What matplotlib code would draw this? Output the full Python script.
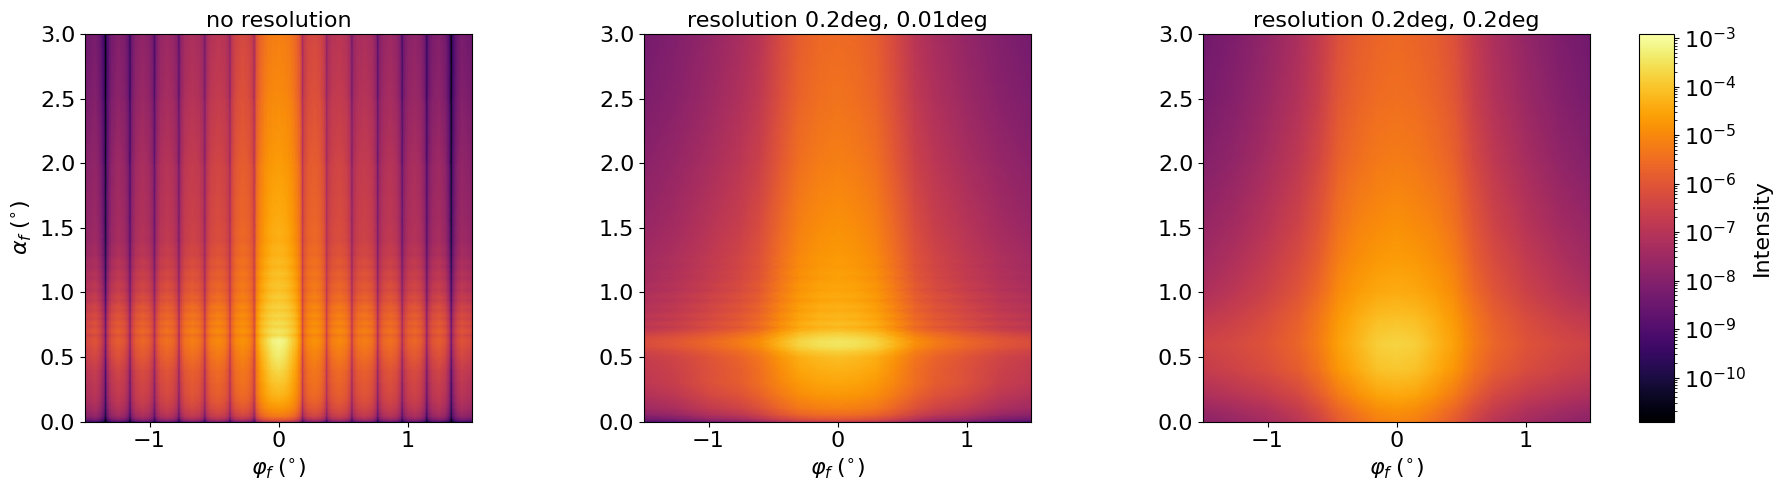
import numpy as np
import matplotlib
matplotlib.use("Agg")
import matplotlib.pyplot as plt
from matplotlib.colors import LogNorm

VMIN, VMAX = 1.24e-11, 1.21e-3
TITLES = ["no resolution", "resolution 0.2deg, 0.01deg", "resolution 0.2deg, 0.2deg"]

# ---- panel 1 (log10 intensity) ----
alpha1 = [0, .008, .02, .04, .07, .1, .15, .2, .3, .4, .5, .55, .6, .63, .65, .667, .685, .705, .736, .762, .797,
          .82, .86, .886, .938, .963, 1.015, 1.054, 1.108, 1.146, 1.196, 1.235, 1.287, 1.34, 1.40, 1.46, 1.55,
          1.75, 2.0, 2.5, 3.0]
centre1 = [-6.9, -6.3, -5.8, -5.3, -5.0, -4.8, -4.5, -4.25, -3.95, -3.65, -3.35, -3.25, -3.15, -3.1, -3.3, -3.6,
           -3.5, -3.45, -3.75, -3.55, -3.85, -3.65, -3.92, -3.75, -4.02, -3.85, -4.1, -3.95, -4.15, -4.02, -4.25,
           -4.12, -4.3, -4.25, -4.38, -4.33, -4.4, -4.5, -4.65, -4.95, -5.15]
bump1 = [0, 0, 0, 0, 0, 0, .05, .15, .3, .5, .6, .6, .55, .55, .4, .3, .2, .15, .1, .1, .05, .05, .05, .05, .1, .1,
         .1, .1, .1, .1, .1, .1, .1, .1, .1, .1, .1, .05, 0, 0, 0]
weight1 = [1.2, 1.15, 1.1, 1.0, .9, .85, .8, .75, .75, .85, 1, 1, 1, 1, 1, 1, 1, 1, .95, .95, .9, .85, .8, .75, .65,
           .6, .5, .45, .35, .3, .25, .2, .12, .08, .05, 0, 0, 0, 0, 0, 0]
core_phi = [0, .05, .085, .11, .135, .155, .172]
core_top = [0, -.05, -.15, -.3, -.5, -.75, -1.05]
core_add = [0, 0, 0, 0, 0, -.1, -.15]
core_bump = [1, .8, .4, .2, .1, 0, 0]
peak_phi = [.28, .47, .67, .865, 1.055, 1.245, 1.42]
peak_top = [-1.15, -1.75, -2.05, -2.35, -2.6, -2.85, -3.05]
peak_add = [0, .45, .55, .6, .65, .7, .65]
dip_phi = [.187, .374, .57, .77, .96, 1.15, 1.34]
dip_top = [-2.3, -2.7, -3.2, -3.7, -4.1, -4.4, -5.7]
dip_add = [-.35, -.15, .15, .25, .45, .35, .85]
edge_phi, edge_top, edge_add = [1.5], [-3.3], [.6]

# ---- panel 2 ----
alpha2 = [0, .008, .02, .05, .1, .2, .3, .4, .5, .55, .58, .62, .66, .7, .73, .76, .79, .82, .86, .89, .94, .97,
          1.02, 1.05, 1.11, 1.15, 1.2, 1.24, 1.3, 1.5, 2.0, 2.5, 3.0]
centre2 = [-6.7, -6.3, -6.0, -5.55, -5.15, -4.75, -4.5, -4.3, -4.1, -3.75, -3.5, -3.45, -3.65, -4.0, -4.25, -4.08,
           -4.3, -4.2, -4.4, -4.3, -4.5, -4.4, -4.55, -4.48, -4.62, -4.58, -4.68, -4.65, -4.72, -4.85, -5.15,
           -5.4, -5.55]
weight2 = [1, 1, 1, 1, 1, 1, 1, .6, .4, .1, -.05, -.05, 0, .1, .1, .1, .1, .1, .1, .1, .1, .1, 0, 0, 0, 0, 0, 0, 0, 0,
           0, 0, 0]
phi2 = [0, .15, .3, .45, .6, .75, 1.0, 1.25, 1.5]
top2 = [0, -.08, -.3, -.8, -1.4, -1.75, -2.15, -2.5, -2.75]
add2 = [0, .03, .1, .25, .4, .4, .5, .4, .4]

# ---- panel 3 ----
alpha3 = [0, .1, .2, .4, .6, .8, 1.0, 1.25, 1.5, 2.0, 2.5, 3.0]
centre3 = [-5.1, -4.8, -4.45, -3.95, -3.75, -4.05, -4.4, -4.65, -4.85, -5.2, -5.45, -5.6]
weight3 = [.8, .85, .9, .95, 1, .4, .05, 0, 0, 0, 0, 0]
phi3 = [0, .15, .3, .375, .45, .525, .6, .75, 1.0, 1.25, 1.5]
top3 = [0, -.07, -.25, -.38, -.55, -.85, -1.15, -1.6, -2.1, -2.5, -2.8]
add3 = [0, -.03, -.2, -.28, -.3, -.3, -.3, -.3, -.2, -.05, .05]

TICK_ALPHA = [0, .5, 1, 1.5, 2, 2.5, 3]
TICK_PHI = [-1, 0, 1]


def panel1_columns():
    nodes = [(p, t, a, b) for p, t, a, b in zip(core_phi, core_top, core_add, core_bump)]
    for i, m in enumerate(dip_phi):
        pf, pg = peak_top[i], peak_add[i]
        pf0 = core_top[-1] if i == 0 else peak_top[i - 1]
        pg0 = core_add[-1] if i == 0 else peak_add[i - 1]
        if i > 0:
            for off, fr in ((-.045, .12), (-.028, .25)):
                nodes.append((m + off, pf0 - fr * (pf0 - dip_top[i]), pg0 - fr * (pg0 - dip_add[i]), 0))
            nodes.append((m - .011, dip_top[i] + .55 * (pf0 - dip_top[i]), dip_add[i] + .55 * (pg0 - dip_add[i]), 0))
        nodes.append((m, dip_top[i], dip_add[i], 0))
        for off, fr in ((.011, .55), (.028, .75), (.045, .88)):
            nodes.append((m + off, dip_top[i] + fr * (pf - dip_top[i]), dip_add[i] + fr * (pg - dip_add[i]), 0))
        nodes.append((peak_phi[i], pf, pg, 0))
    nodes.append((edge_phi[0], edge_top[0], edge_add[0], 0))
    n = np.array(nodes)
    return n[:, 0], n[:, 1], n[:, 2], n[:, 3]


def mirror(v):
    v = np.asarray(v)
    return np.r_[v[:0:-1], v]


def field(alpha, centre, weight, phi, top, add, bump=None, bump_col=None):
    x = np.r_[-np.asarray(phi)[:0:-1], phi]
    z = np.asarray(centre)[:, None] + mirror(top)[None, :] + np.asarray(weight)[:, None] * mirror(add)[None, :]
    if bump is not None:
        z = z - np.asarray(bump)[:, None] * (1 - mirror(bump_col)[None, :])
    return x, np.asarray(alpha), 10.0 ** z


p1, f1, g1, h1 = panel1_columns()
panels = [field(alpha1, centre1, weight1, p1, f1, g1, bump1, h1),
          field(alpha2, centre2, weight2, phi2, top2, add2),
          field(alpha3, centre3, weight3, phi3, top3, add3)]

W, H = 1780, 491
fig = plt.figure(figsize=(W / 100, H / 100), dpi=100)
FS = 16
lefts = [85, 644, 1203]
top_px, bot_px, w_px = 34, 421.5, 387
norm = LogNorm(VMIN, VMAX)
for i, (x, y, z) in enumerate(panels):
    ax = fig.add_axes([lefts[i] / W, 1 - bot_px / H, w_px / W, (bot_px - top_px) / H])
    m = ax.pcolormesh(x, y, z, shading="gouraud", cmap="inferno", norm=norm, rasterized=True)
    ax.set_xlim(-1.5, 1.5)
    ax.set_ylim(0, 3)
    ax.set_xticks(TICK_PHI)
    ax.set_yticks(TICK_ALPHA)
    ax.tick_params(labelsize=FS)
    ax.set_title(TITLES[i], fontsize=FS, pad=5)
    ax.set_xlabel(r"$\varphi_f\;(^{\circ})$", fontsize=FS)
    if i == 0:
        ax.set_ylabel(r"$\alpha_f\;(^{\circ})$", fontsize=FS)

cax = fig.add_axes([1638.5 / W, 1 - bot_px / H, 35.5 / W, (bot_px - top_px) / H])
cb = fig.colorbar(m, cax=cax)
cb.ax.tick_params(labelsize=FS)
cb.set_label("Intensity", fontsize=FS)
fig.savefig("out.png", dpi=100)
